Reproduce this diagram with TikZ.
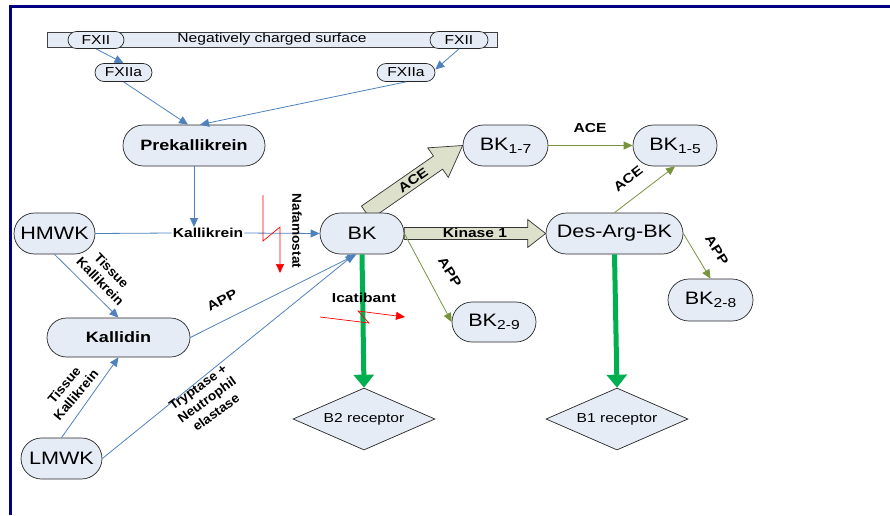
\documentclass[tikz,border=0pt]{standalone}
\usepackage{fontspec}
\setmainfont{Liberation Sans}[FakeStretch=1.2]
\newfontfamily\rotfont{Liberation Sans}[FakeStretch=1.05]
\usetikzlibrary{arrows.meta,shapes.geometric,shapes.misc,calc,backgrounds}
\definecolor{nfill}{HTML}{E6ECF6}
\definecolor{blueln}{HTML}{4F81BD}
\definecolor{oliveln}{HTML}{77933C}
\definecolor{greenln}{HTML}{00B050}
\definecolor{blockfill}{HTML}{DDE0CB}
\definecolor{navyframe}{HTML}{000080}
\newcommand{\sbk}[1]{\raisebox{-3pt}{\fontsize{13}{13}\selectfont #1}}
\begin{document}
\begin{tikzpicture}[x=1pt,y=-1pt,
  pill/.style={rounded rectangle, draw=black!85, fill=nfill, line width=0.7pt, inner sep=0pt},
  big/.style={pill, minimum height=41pt, font=\fontsize{18}{20}\selectfont},
  bold/.style={pill, font=\bfseries\fontsize{15}{17}\selectfont},
  small/.style={pill, minimum height=17pt, font=\fontsize{13}{14}\selectfont},
  recep/.style={diamond, draw=black!85, fill=nfill, line width=0.7pt, aspect=2.3, minimum width=142pt, minimum height=62pt, inner sep=0pt, font=\fontsize{13}{15}\selectfont},
  bl/.style={draw=blueln, line width=0.8pt, -{Triangle[length=9pt,width=8pt]}},
  ol/.style={draw=oliveln, line width=0.8pt, -{Triangle[length=9pt,width=8pt]}},
  gr/.style={draw=greenln, line width=5pt, -{Triangle[length=13pt,width=20pt]}},
  rd/.style={draw=red, line width=0.7pt, -{Triangle[length=9pt,width=8pt]}},
  lbl/.style={font=\bfseries\fontsize{13}{15}\selectfont, inner sep=1pt},
  rlbl/.style={font=\rotfont\bfseries\fontsize{13}{15.5}\selectfont, align=center, inner sep=0pt},
  blk/.style={draw=black!80, fill=blockfill, line width=0.7pt, line join=miter}
]
\useasboundingbox (0,0) rectangle (890,515);
% frame
\draw[navyframe, line width=3pt] (9,6.5) -- (890,6.5);
\draw[navyframe, line width=3pt] (10.5,5) -- (10.5,515);

% surface and factor XII
\node[draw=black!75, fill=nfill, line width=0.8pt, minimum width=450pt, minimum height=15pt, inner sep=0pt, font=\fontsize{13}{14}\selectfont] (surf) at (272,39.5) {Negatively charged surface};
\node[small, minimum width=56pt] (fx1) at (96,40) {FXII};
\node[small, minimum width=58pt] (fx2) at (459,40) {FXII};
\node[small, minimum width=57pt, minimum height=18pt] (fa1) at (123.5,72.5) {FXIIa};
\node[small, minimum width=58pt, minimum height=18pt] (fa2) at (406,72.5) {FXIIa};

% main nodes
\node[bold, minimum width=142pt, minimum height=41pt] (pk) at (194,145.5) {Prekallikrein};
\node[big, minimum width=81pt] (hm) at (54.5,233.5) {HMWK};
\node[big, minimum width=84pt] (bk) at (362,233.5) {BK};
\node[bold, minimum width=143pt, minimum height=39pt] (kd) at (118.5,337.5) {Kallidin};
\node[big, minimum width=81pt] (lm) at (61.5,458.5) {LMWK};
\node[big, minimum width=85pt] (b17) at (505.5,145.5) {BK\sbk{1-7}};
\node[big, minimum width=84pt] (b15) at (675,145.5) {BK\sbk{1-5}};
\node[big, minimum width=137pt] (dab) at (614.5,233.5) {Des-Arg-BK};
\node[big, minimum width=84pt, minimum height=40pt] (b29) at (494,322) {BK\sbk{2-9}};
\node[big, minimum width=85pt, minimum height=42pt] (b28) at (710.5,300) {BK\sbk{2-8}};
\node[recep] (b2) at (364,419) {B2 receptor};
\node[recep] (b1) at (617,419) {B1 receptor};
\node[lbl, fill=white] (kal) at (208,233) {Kallikrein};

% block arrows (behind nodes)
\begin{scope}[on background layer]
\coordinate (aT) at ([xshift=4pt]bk.north);
\coordinate (aM) at ($(b17.west)!30pt!(aT)$);
\draw[blk] ($(aT)!8pt!90:(b17.west)$) -- ($(aM)!8pt!-90:(aT)$) -- ($(aM)!18pt!-90:(aT)$) -- (b17.west) -- ($(aM)!18pt!90:(aT)$) -- ($(aM)!8pt!90:(aT)$) -- ($(aT)!8pt!-90:(b17.west)$) -- cycle;
\coordinate (kM) at ($(dab.west)!18pt!(bk.east)$);
\draw[blk] ($(bk.east)!6pt!90:(dab.west)$) -- ($(kM)!6pt!-90:(bk.east)$) -- ($(kM)!14pt!-90:(bk.east)$) -- (dab.west) -- ($(kM)!14pt!90:(bk.east)$) -- ($(kM)!6pt!90:(bk.east)$) -- ($(bk.east)!6pt!-90:(dab.west)$) -- cycle;
\end{scope}

% blue connectors
\draw[bl] (fx1.south) -- (fa1.north);
\draw[bl] (fx2.south) -- ([yshift=3pt]fa2.east);
\draw[bl] (fa1.south) -- ([xshift=-6pt]pk.north);
\draw[bl] (fa2.south) -- ([xshift=6pt]pk.north);
\draw[bl] (pk.south) -- (pk.south |- kal.north);
\draw[draw=blueln, line width=0.8pt] (hm.east) -- (kal.west);
\draw[bl] (kal.east) -- (bk.west);
\draw[bl] (hm.south) -- (kd.north);
\draw[bl] (lm.north) -- (kd.south);
\draw[bl] (kd.east) -- (bk.255);
\draw[bl] (lm.east) -- (bk.250);

% olive connectors
\draw[ol] (bk.east) -- (b29.west);
\draw[ol] (b17.east) -- (b15.west);
\draw[ol] (dab.north) -- (b15.south);
\draw[ol] (dab.east) -- (b28.north);

% green receptor arrows
\draw[gr] (bk.south) -- (b2.north);
\draw[gr] (dab.south) -- (b1.north);

% inhibitors
\draw[rd] (263,195) -- (263,241) -- (280,227) -- (280,273);
\draw[rd] (320,317) -- (369,323) -- (358,311) -- (405,317);

% labels
\node[lbl] at (475,233) {Kinase 1};
\node[lbl, rotate=35] at (413,180) {ACE};
\node[lbl] at (590,128) {ACE};
\node[lbl, rotate=38] at (628,179) {ACE};
\node[lbl, rotate=-58] at (450,272) {APP};
\node[lbl, rotate=-58] at (717,250) {APP};
\node[lbl, rotate=28] at (222,300) {APP};
\node[lbl] at (364,298) {Icatibant};
\node[rlbl, rotate=-90] at (297,231) {Nafamostat};
\node[rlbl, rotate=-46] at (106,276) {Tissue\\Kallikrein};
\node[rlbl, rotate=50] at (70,390) {Tissue\\Kallikrein};
\node[rlbl, rotate=36] at (207,400) {Tryptase +\\Neutrophil\\elastase};
\end{tikzpicture}
\end{document}
